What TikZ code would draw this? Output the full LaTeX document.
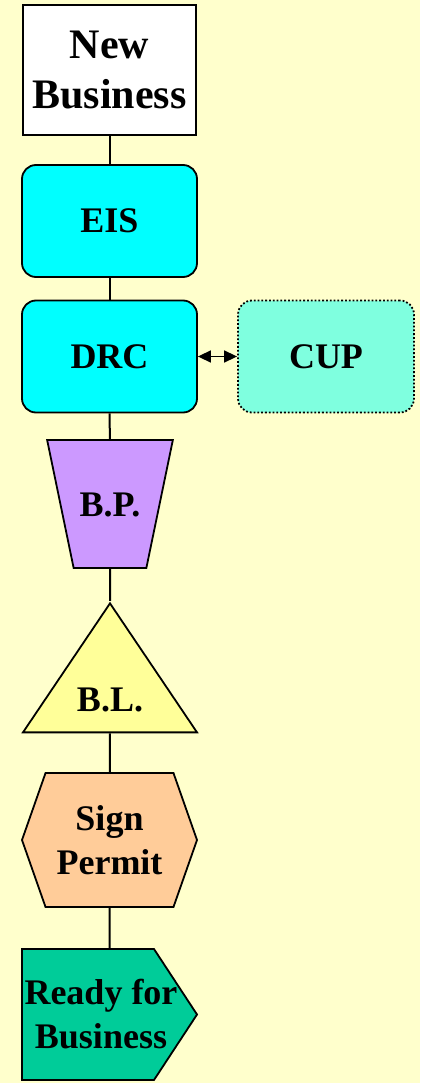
\documentclass[tikz,border=0pt]{standalone}
\usepackage{fontspec}
\setmainfont{Liberation Serif}
\usetikzlibrary{shapes.geometric,shapes.symbols,arrows.meta}
\definecolor{bgyellow}{HTML}{FFFFCC}
\definecolor{eiscyan}{HTML}{00FFFF}
\definecolor{cupgreen}{HTML}{7FFFDF}
\definecolor{bppurple}{HTML}{CC99FF}
\definecolor{blyellow}{HTML}{FFFF99}
\definecolor{sporange}{HTML}{FFCC99}
\definecolor{rfbgreen}{HTML}{00CC99}
\begin{document}
\begin{tikzpicture}[x=1pt,y=-1pt,line width=2pt,
    every node/.style={draw=black,line width=1.8pt,inner sep=0pt,align=center,font=\fontsize{36}{44}\selectfont\bfseries},
    stepbox/.style={rectangle,rounded corners=14pt,minimum width=175,minimum height=112}]
            \fill[bgyellow] (0,0) rectangle (420,1083);

            \node[rectangle,fill=white,minimum width=173,minimum height=130,font=\fontsize{42}{49.5}\selectfont\bfseries] (nb) at (109.5,70) {New\\Business};
            \node[stepbox,fill=eiscyan] (eis) at (109.5,221) {EIS};
            \node[stepbox,fill=eiscyan] (drc) at (109.5,356.5) {DRC};
            \node[stepbox,fill=cupgreen,dotted,minimum width=176] (cup) at (326,356.5) {CUP};
            \node[trapezium,trapezium left angle=78.3,trapezium right angle=78.3,shape border rotate=180,text height=24pt,text depth=0pt,inner ysep=52pt,inner xsep=6pt,fill=bppurple] (bp) at (110,504) {B.P.};
            \node[isosceles triangle,shape border rotate=90,isosceles triangle stretches,minimum width=174,minimum height=129,anchor=apex,fill=blyellow] (bl) at (110,601) {B.L.};
            \node[signal,signal to=west and east,signal pointer angle=141.3,minimum width=175,minimum height=134,fill=sporange] (sp) at (109.5,840) {Sign\\Permit};
            \node[signal,signal to=east,signal pointer angle=113.4,minimum width=175,minimum height=131,fill=rfbgreen,
                  label={[draw=none,xshift=13pt]center:Ready for\\Business}] (rfb) at (88,1014.5) {};

            \path [-] (nb) edge (eis);
            \path [-] (eis) edge (drc);
            \path [-] (drc) edge (bp);
            \path [-] (bp) edge (bl);
            \path [-] (bl) edge (sp);
            \path [-] (sp) edge (sp.south |- rfb.north);
            \draw [<->,>={Triangle[length=13pt,width=12pt]},line width=1.5pt] (drc) -- (cup);
        \end{tikzpicture}
\end{document}
